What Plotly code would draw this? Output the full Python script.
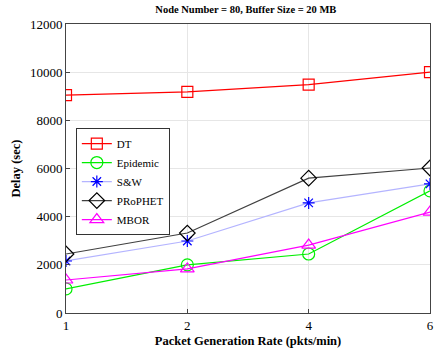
import plotly.graph_objects as go

# Packet generation rates (categorical x axis)
rates = ["1", "2", "4", "6"]

# Average delay (sec) per routing protocol
dt = [9050, 9180, 9480, 10000]
epidemic = [1000, 2000, 2450, 5070]
snw = [2160, 2990, 4570, 5360]
prophet = [2450, 3320, 5600, 6020]
mbor = [1370, 1830, 2820, 4190]

y_ticks = [0, 2000, 4000, 6000, 8000, 10000, 12000]
y_tick_text = ["0", "2000", "4000", "6000", "8000", "10000", "12000"]

font_family = "Liberation Serif"

series = [
    ("DT", dt, "#ff0000", "#ff0000", "square-open", 11),
    ("Epidemic", epidemic, "#00ee00", "#00ee00", "circle-open", 12),
    ("S&W", snw, "#b4b4ff", "#0000ff", "asterisk-open", 10),
    ("PRoPHET", prophet, "#404040", "#000000", "diamond-open", 12),
    ("MBOR", mbor, "#ff00ff", "#ff00ff", "triangle-up-open", 12),
]

fig = go.Figure()
for name, vals, lcol, mcol, sym, size in series:
    fig.add_trace(go.Scatter(
        x=rates, y=vals, name=name, mode="lines+markers",
        line=dict(color=lcol, width=1.2),
        marker=dict(symbol=sym, size=size, color=mcol,
                    line=dict(color=mcol, width=1.2)),
    ))

fig.update_layout(
    width=439, height=354,
    margin=dict(l=66, r=5, t=24, b=41),
    paper_bgcolor="white", plot_bgcolor="white",
    font=dict(family=font_family, size=12, color="black"),
    title=dict(text="<b>Node Number = 80, Buffer Size = 20 MB</b>",
               x=0.56, xanchor="center", y=0.985, yanchor="top",
               font=dict(size=10.5)),
    showlegend=True,
    legend=dict(x=0.027, y=0.64, xanchor="left", yanchor="top",
                bgcolor="white", bordercolor="#333333", borderwidth=1,
                font=dict(size=11), itemwidth=30, tracegroupgap=0),
)

fig.update_xaxes(
    type="category", range=[0, 3],
    title=dict(text="<b>Packet Generation Rate (pkts/min)</b>", standoff=4,
               font=dict(size=12.5)),
    showgrid=True, gridcolor="#e6e6e6", gridwidth=1,
    showline=True, linecolor="#444444", linewidth=1, mirror=True,
    ticks="inside", ticklen=4, tickcolor="#444444",
    tickfont=dict(size=13), zeroline=False,
)
fig.update_yaxes(
    range=[0, 12000], tickvals=y_ticks, ticktext=y_tick_text,
    title=dict(text="<b>Delay (sec)</b>", standoff=6, font=dict(size=12.5)),
    showgrid=True, gridcolor="#e6e6e6", gridwidth=1,
    showline=True, linecolor="#444444", linewidth=1, mirror=True,
    ticks="inside", ticklen=4, tickcolor="#444444",
    tickfont=dict(size=13), zeroline=False,
)

fig.write_html("out.html")
